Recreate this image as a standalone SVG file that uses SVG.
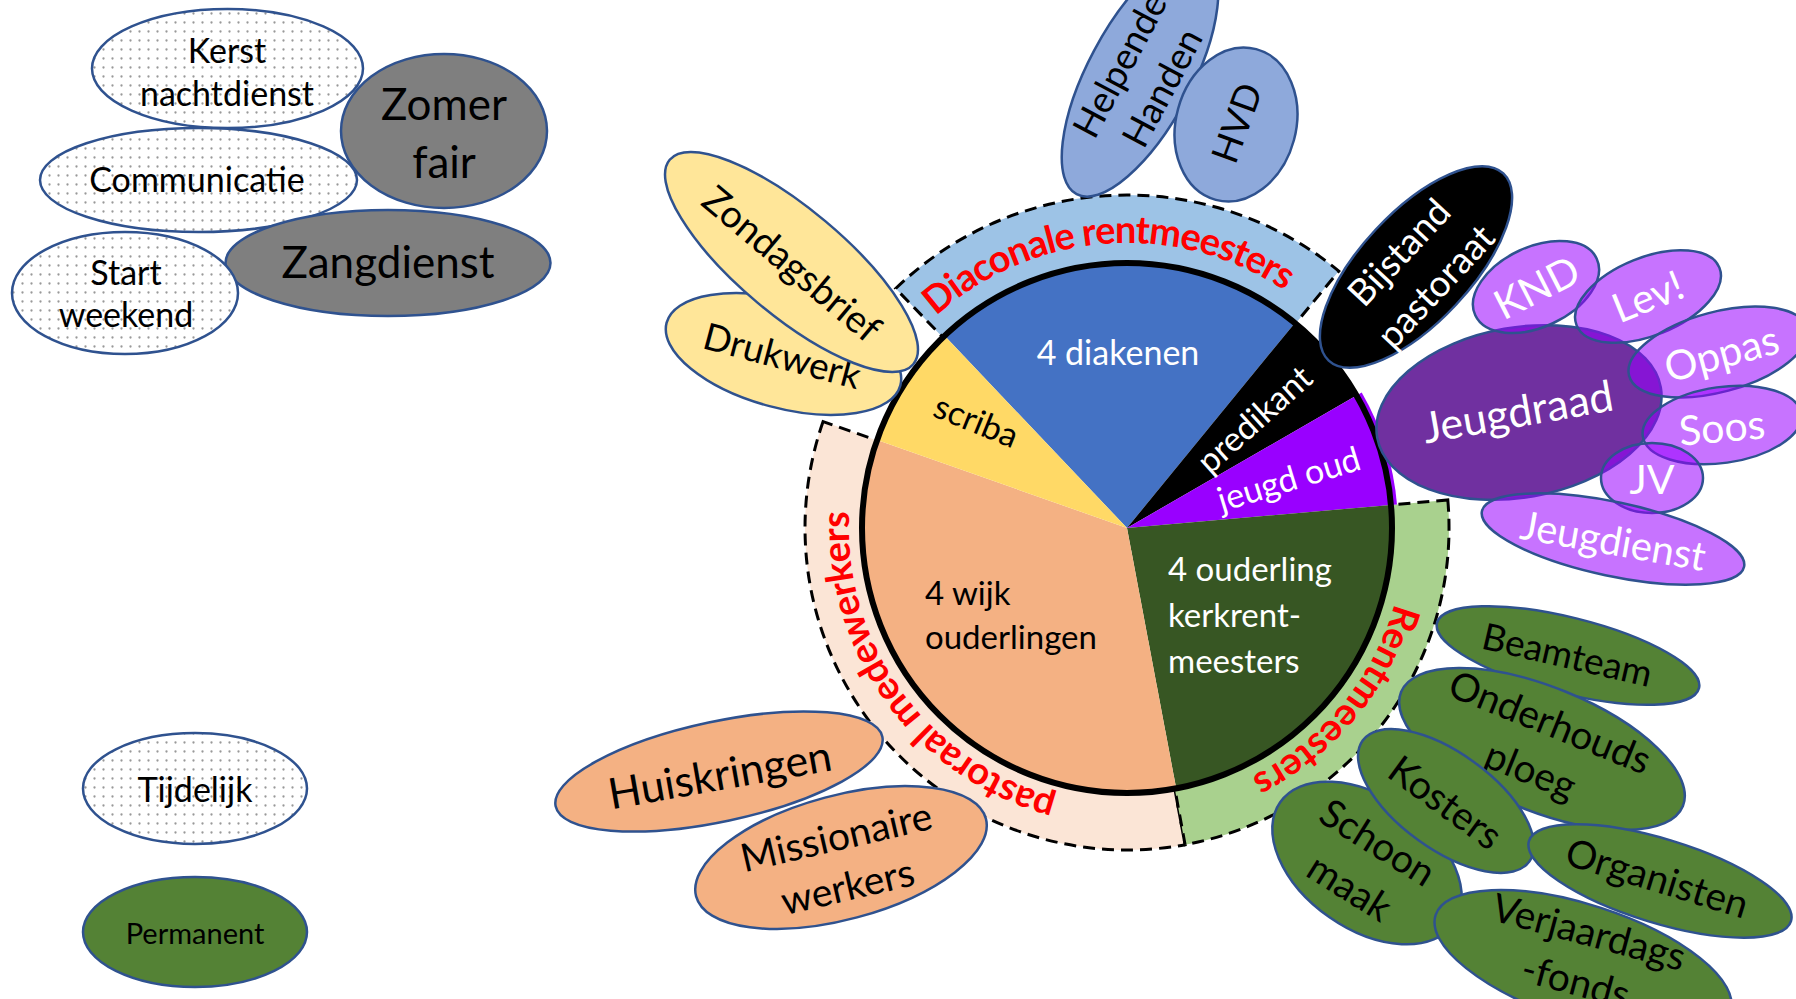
<svg xmlns="http://www.w3.org/2000/svg" width="1796" height="999" viewBox="0 0 1796 999">
<defs>
<pattern id="dots" width="9" height="9" patternUnits="userSpaceOnUse"><rect width="9" height="9" fill="#fff"/><circle cx="4.5" cy="4.5" r="1.15" fill="#999"/></pattern>
<path id="arc-diac" d="M895.8,361.3 A285,285 0 0 1 1331.3,329.3" fill="none"/>
<path id="arc-rent" d="M1395.0,454.2 A278,278 0 0 1 1104.7,805.1" fill="none"/>
<path id="arc-past" d="M1131.9,806.0 A278,278 0 0 1 864.1,437.5" fill="none"/>
</defs>
<style>
.e{stroke:#2F528F;stroke-width:2.5}
.t{font-family:Lato,'Liberation Sans',sans-serif;text-anchor:middle;fill:#000}
.s{font-family:Lato,'Liberation Sans',sans-serif;text-anchor:start}
.w{fill:#fff}
.dot{fill:url(#dots)}
.gray{fill:#7F7F7F}
.yel{fill:#FFE699}
.blu{fill:#8EA9DB}
.pur{fill:#9900FF;fill-opacity:0.55}
.grn{fill:#548235}
.org{fill:#F4B183}
.band{stroke:#000;stroke-width:3;stroke-dasharray:12 7}
.arc{font-family:Lato,'Liberation Sans',sans-serif;font-weight:700;font-size:38px;fill:#FF0000}
</style>
<rect width="1796" height="999" fill="#fff"/>

<g id="band-diaconale">
<path class="band" fill="#9DC3E6" d="M895.7,288.5 A333,333 0 0 1 1338.8,271.1 L1295.6,323.5 A265,265 0 0 0 942.9,337.4 Z"/>
<text class="arc"><textPath href="#arc-diac" startOffset="50%" text-anchor="middle" textLength="376" lengthAdjust="spacing">Diaconale rentmeesters</textPath></text>
</g>
<g id="band-pastoraal">
<path class="band" fill="#FBE5D6" d="M823.1,421.6 A322,322 0 0 0 1185.1,844.7 L1174.8,788.7 A265,265 0 0 1 876.9,440.4 Z"/>
<text class="arc"><textPath href="#arc-past" startOffset="50%" text-anchor="middle" textLength="382" lengthAdjust="spacing">pastoraal medewerkers</textPath></text>
</g>
<g id="band-rentmeesters">
<path class="band" fill="#A9D18E" d="M1447.8,499.9 A322,322 0 0 1 1185.1,844.7 L1174.8,788.7 A265,265 0 0 0 1391.0,504.9 Z"/>
<text class="arc"><textPath href="#arc-rent" startOffset="50%" text-anchor="middle" textLength="232" lengthAdjust="spacing">Rentmeesters</textPath></text>
</g>

<g id="pie">
<path id="slice-diakenen" fill="#4472C4" d="M1127,528 L944.6,335.8 A265,265 0 0 1 1294.9,322.9 Z"/>
<path id="slice-predikant" fill="#000" d="M1127,528 L1294.9,322.9 A265,265 0 0 1 1356.5,395.5 Z"/>
<path id="slice-jeugd" fill="#9900FF" d="M1127,528 L1361.7,392.5 A271,271 0 0 1 1397.0,504.4 Z"/>
<path id="slice-ouderling" fill="#375623" d="M1127,528 L1391.0,504.9 A265,265 0 0 1 1176.2,788.4 Z"/>
<path id="slice-wijk" fill="#F4B183" d="M1127,528 L1176.2,788.4 A265,265 0 0 1 877.1,440.0 Z"/>
<path id="slice-scriba" fill="#FFD966" d="M1127,528 L877.1,440.0 A265,265 0 0 1 944.6,335.8 Z"/>
<circle cx="1127" cy="528" r="265" fill="none" stroke="#000" stroke-width="6"/>
<text class="t w" font-size="34" x="1118" y="365">4 diakenen</text>
<text class="t" font-size="34" transform="translate(976,422) rotate(22)" y="11">scriba</text>
<text class="t w" font-size="34" transform="translate(1255,420) rotate(-42)" y="11">predikant</text>
<text class="t w" font-size="34" transform="translate(1289,480) rotate(-17)" y="11">jeugd oud</text>
<text class="s" font-size="33" fill="#000"><tspan x="925" y="605">4 wijk</tspan><tspan x="925" y="649">ouderlingen</tspan></text>
<text class="s" font-size="33" fill="#fff"><tspan x="1168" y="581">4 ouderling</tspan><tspan x="1168" y="627">kerkrent-</tspan><tspan x="1168" y="673">meesters</tspan></text>
</g>

<g id="kerst"><ellipse class="e dot" cx="227.5" cy="68.5" rx="135.5" ry="59.5"/><text class="t" font-size="34"><tspan x="227" y="63">Kerst</tspan><tspan x="227" y="106">nachtdienst</tspan></text></g>
<g id="communicatie"><ellipse class="e dot" cx="198.5" cy="180" rx="158.5" ry="52"/><text class="t" font-size="34" x="197" y="192">Communicatie</text></g>
<g id="zomerfair"><ellipse class="e gray" cx="444" cy="131" rx="103" ry="77"/><text class="t" font-size="44"><tspan x="444" y="120">Zomer</tspan><tspan x="444" y="178">fair</tspan></text></g>
<g id="zangdienst"><ellipse class="e gray" cx="388" cy="263" rx="162.5" ry="53"/><text class="t" font-size="44" x="388" y="278">Zangdienst</text></g>
<g id="startweekend"><ellipse class="e dot" cx="125" cy="293" rx="113" ry="61"/><text class="t" font-size="34"><tspan x="126" y="285">Start</tspan><tspan x="126" y="327">weekend</tspan></text></g>

<g id="legend-tijdelijk"><ellipse class="e dot" cx="195" cy="788.5" rx="112" ry="55.5"/><text class="t" font-size="34" x="195" y="802">Tijdelijk</text></g>
<g id="legend-permanent"><ellipse class="e grn" cx="195" cy="932" rx="112" ry="55"/><text class="t" font-size="29" x="195" y="944">Permanent</text></g>

<g id="drukwerk"><ellipse class="e yel" cx="783.5" cy="354" rx="121" ry="54" transform="rotate(15 783.5 354)"/><text class="t" font-size="37" transform="translate(782,357) rotate(15)" y="12">Drukwerk</text></g>
<g id="zondagsbrief"><ellipse class="e yel" cx="791.5" cy="262" rx="159" ry="53" transform="rotate(40 791.5 262)"/><text class="t" font-size="38" transform="translate(791,265) rotate(40)" y="12">Zondagsbrief</text></g>

<g id="helpendehanden"><ellipse class="e blu" cx="1140" cy="75" rx="135" ry="52" transform="rotate(-62 1140 75)"/><text class="t" font-size="37" transform="translate(1142,77) rotate(-62)"><tspan x="0" y="-12">Helpende</tspan><tspan x="0" y="36">Handen</tspan></text></g>
<g id="hvd"><ellipse class="e blu" cx="1236" cy="124.5" rx="60" ry="78" transform="rotate(15 1236 124.5)"/><text class="t" font-size="37" transform="translate(1237,123) rotate(-70)" y="13">HVD</text></g>

<g id="bijstand"><ellipse class="e" fill="#000" cx="1416" cy="267" rx="128" ry="55" transform="rotate(-47 1416 267)"/><text class="t w" font-size="37" transform="translate(1418,270) rotate(-47)"><tspan x="0" y="-13">Bijstand</tspan><tspan x="0" y="37">pastoraat</tspan></text></g>

<g id="jeugdraad"><ellipse class="e" fill="#7030A0" cx="1519" cy="412.5" rx="144" ry="85" transform="rotate(-10 1519 412.5)"/><text class="t w" font-size="43" transform="translate(1518,413) rotate(-10)" y="14">Jeugdraad</text></g>
<g id="knd"><ellipse class="e pur" cx="1536" cy="287" rx="67" ry="40" transform="rotate(-25 1536 287)"/><text class="t w" font-size="41" transform="translate(1537,288) rotate(-27)" y="14">KND</text></g>
<g id="lev"><ellipse class="e pur" cx="1648" cy="296.5" rx="77" ry="39" transform="rotate(-22 1648 296.5)"/><text class="t w" font-size="41" transform="translate(1648,297) rotate(-22)" y="14">Lev!</text></g>
<g id="oppas"><ellipse class="e pur" cx="1718" cy="352" rx="92" ry="40" transform="rotate(-15 1718 352)"/><text class="t w" font-size="41" transform="translate(1722,355) rotate(-15)" y="13">Oppas</text></g>
<g id="soos"><ellipse class="e pur" cx="1722" cy="425" rx="80" ry="38" transform="rotate(-8 1722 425)"/><text class="t w" font-size="41" transform="translate(1722,428) rotate(-5)" y="14">Soos</text></g>
<g id="jv"><ellipse class="e pur" cx="1652" cy="478" rx="51" ry="35"/><text class="t w" font-size="41" x="1652" y="494">JV</text></g>
<g id="jeugdienst"><ellipse class="e pur" cx="1613" cy="539" rx="134" ry="37" transform="rotate(12 1613 539)"/><text class="t w" font-size="40" transform="translate(1613,542) rotate(10)" y="13">Jeugdienst</text></g>

<g id="beamteam"><ellipse class="e grn" cx="1568" cy="655.5" rx="135" ry="38" transform="rotate(14 1568 655.5)"/><text class="t" font-size="37" transform="translate(1567,656) rotate(13)" y="12">Beamteam</text></g>
<g id="onderhoudsploeg"><ellipse class="e grn" cx="1542" cy="749" rx="152" ry="62" transform="rotate(22 1542 749)"/><text class="t" font-size="39" transform="translate(1540,747) rotate(22)"><tspan x="0" y="-13">Onderhouds</tspan><tspan x="0" y="39">ploeg</tspan></text></g>
<g id="schoonmaak"><ellipse class="e grn" cx="1367" cy="863" rx="106" ry="66" transform="rotate(35 1367 863)"/><text class="t" font-size="39" transform="translate(1363,866) rotate(32)"><tspan x="0" y="-14">Schoon</tspan><tspan x="0" y="39">maak</tspan></text></g>
<g id="kosters"><ellipse class="e grn" cx="1446" cy="801" rx="103" ry="48" transform="rotate(36 1446 801)"/><text class="t" font-size="39" transform="translate(1445,803) rotate(36)" y="13">Kosters</text></g>
<g id="organisten"><ellipse class="e grn" cx="1660" cy="881" rx="137" ry="42" transform="rotate(17 1660 881)"/><text class="t" font-size="39" transform="translate(1657,879) rotate(17)" y="13">Organisten</text></g>
<g id="verjaardagsfonds"><ellipse class="e grn" cx="1583" cy="963" rx="155" ry="58" transform="rotate(18 1583 963)"/><text class="t" font-size="39" transform="translate(1582,958) rotate(15)"><tspan x="0" y="-13">Verjaardags</tspan><tspan x="0" y="38">-fonds</tspan></text></g>

<g id="huiskringen"><ellipse class="e org" cx="719" cy="771.5" rx="167" ry="50" transform="rotate(-12 719 771.5)"/><text class="t" font-size="43" transform="translate(720,776) rotate(-10)" y="14">Huiskringen</text></g>
<g id="missionaire"><ellipse class="e org" cx="841" cy="857.5" rx="150" ry="62" transform="rotate(-15 841 857.5)"/><text class="t" font-size="39" transform="translate(842,862) rotate(-13)"><tspan x="0" y="-12">Missionaire</tspan><tspan x="0" y="39">werkers</tspan></text></g>

<g id="connectors"/>
</svg>
